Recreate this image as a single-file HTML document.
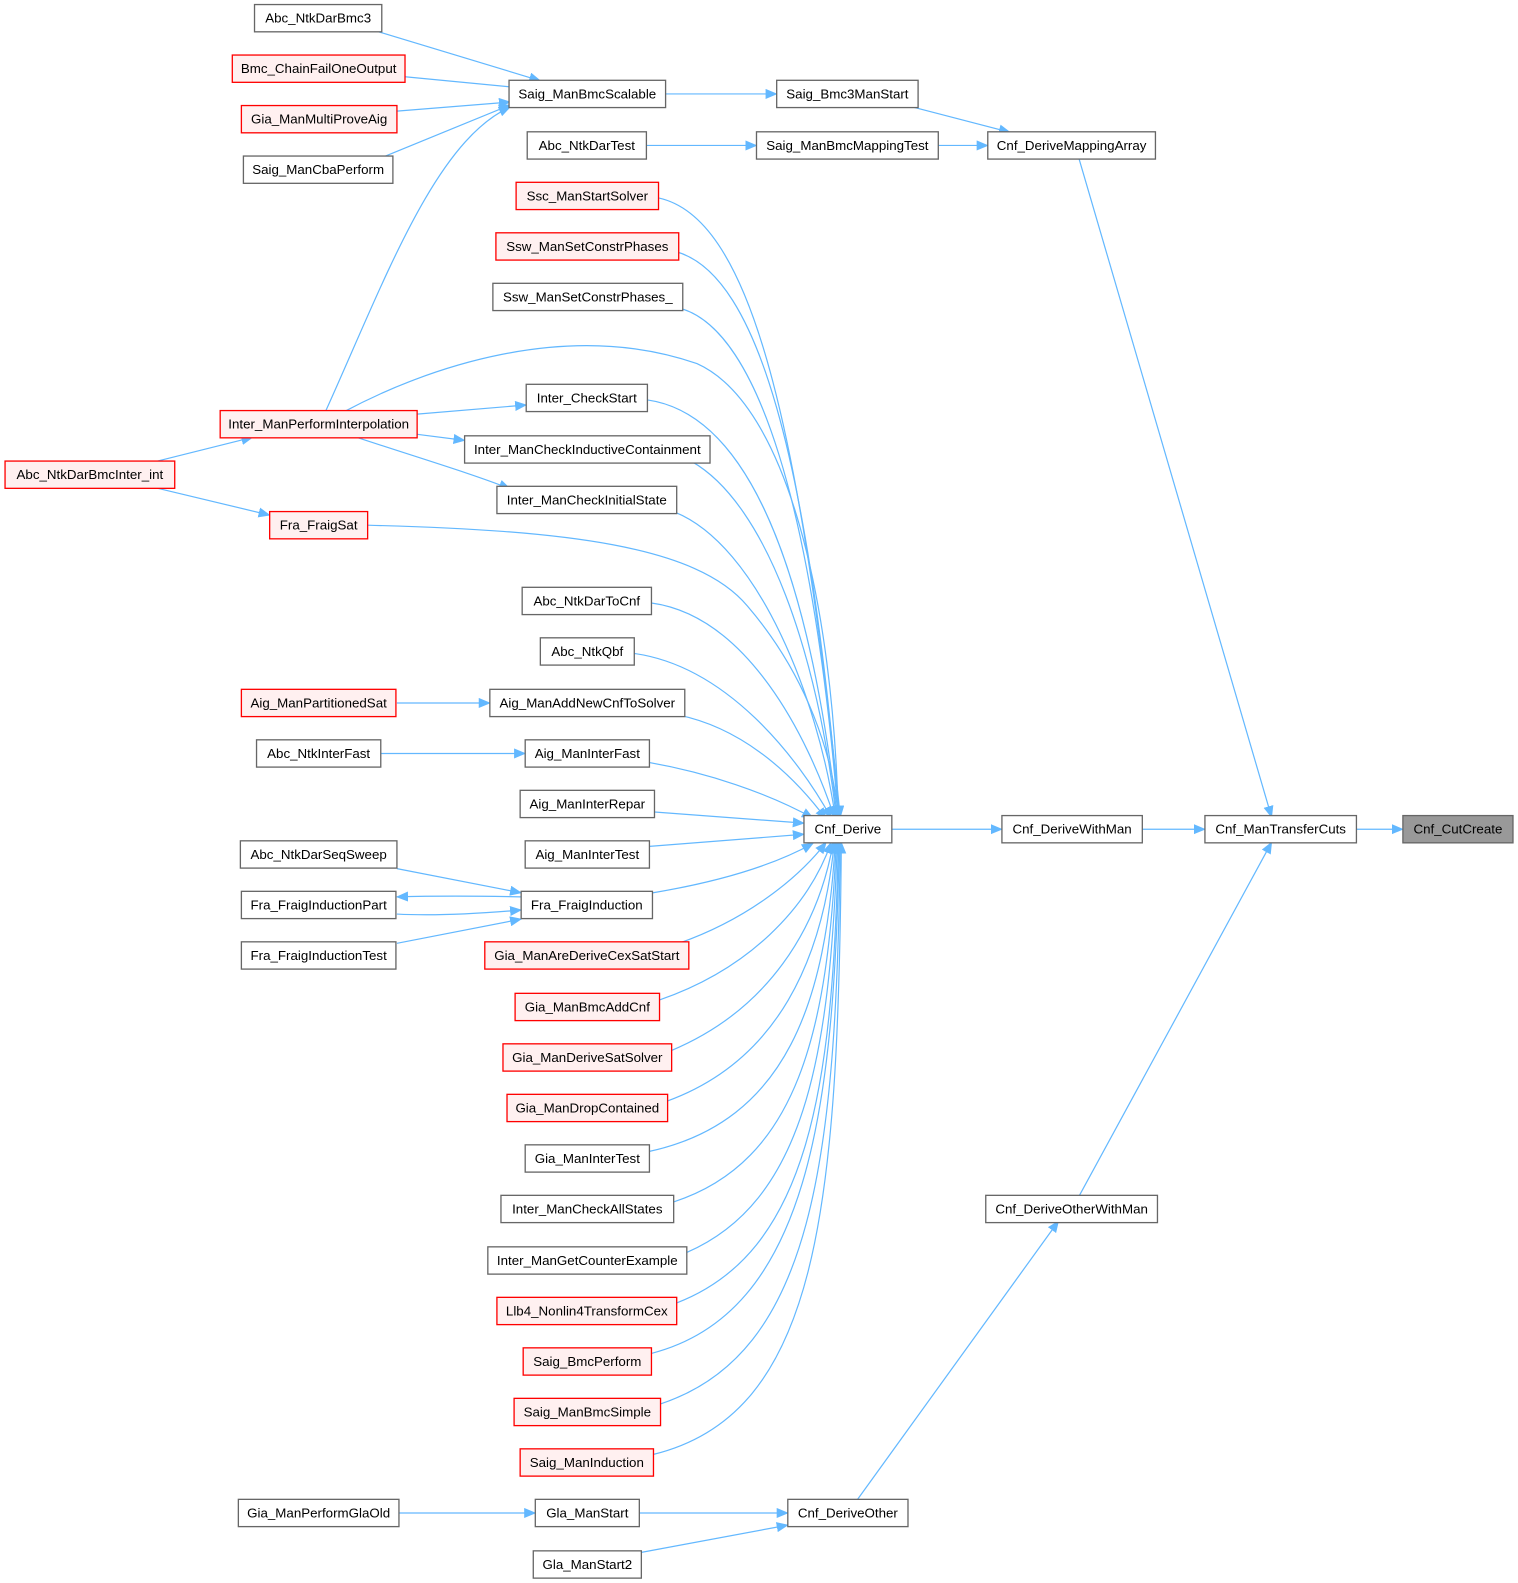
<!DOCTYPE html>
<html><head><meta charset="utf-8"><style>
html,body{margin:0;padding:0;background:#fff;}
svg{display:block;}
text{font-family:"Liberation Sans",Arial,sans-serif;font-size:13.2px;fill:#000;text-anchor:middle;dominant-baseline:central;}
.n{fill:#fff;stroke:#666;stroke-width:1.3;}
.r{fill:#fff0f0;stroke:#f00;stroke-width:1.3;}
.g{fill:#999;stroke:#666;stroke-width:1.3;}
.e{fill:none;stroke:#63b8ff;stroke-width:1.2;marker-end:url(#a);}
</style></head><body>
<svg width="1518" height="1583" viewBox="0 0 1518 1583" xmlns="http://www.w3.org/2000/svg">
<defs><marker id="a" markerUnits="userSpaceOnUse" markerWidth="12" markerHeight="10" refX="11" refY="5" orient="auto"><path d="M0,0 L12,5 L0,10 z" fill="#63b8ff"/></marker></defs>
<g transform="scale(1.01)">
<!-- edges -->
<path class="e" d="M370,30 L535,80"/>
<path class="e" d="M401,76 L515,87"/>
<path class="e" d="M393,110 L505,101"/>
<path class="e" d="M378,156 L505,104"/>
<path class="e" d="M322,408 C380,280 430,140 505,106"/>
<path class="e" d="M659,93 L769,93"/>
<path class="e" d="M900,105 L1000,131"/>
<path class="e" d="M640,144 L749,144"/>
<path class="e" d="M929,144 L978,144"/>
<path class="e" d="M1068,156 L1259,809"/>
<path class="e" d="M150,458 L250,433"/>
<path class="e" d="M150,482 L267,510"/>
<path class="e" d="M413,410 L521,401"/>
<path class="e" d="M413,430 L460,436"/>
<path class="e" d="M350,432 C420,455 470,470 505,484"/>
<path class="e" d="M340,408 C420,365 560,315 690,360 C780,400 825,600 830,809"/>
<path class="e" d="M364,520 C560,525 690,540 740,600 C800,670 825,750 830,809"/>
<path class="e" d="M393,696 L485,696"/>
<path class="e" d="M377,746 L520,746"/>
<path class="e" d="M393,860 L516,884"/>
<path class="e" d="M516,888 C470,887 430,887 393,888"/>
<path class="e" d="M393,905 C430,907 470,905 516,901"/>
<path class="e" d="M393,934 L516,910"/>
<path class="e" d="M395,1498 L530,1498"/>
<path class="e" d="M633,1498 L780,1498"/>
<path class="e" d="M635,1537 L780,1510"/>
<path class="e" d="M848,1486 L1048,1209"/>
<path class="e" d="M1068,1185 L1259,834"/>
<path class="e" d="M883,821 L992,821"/>
<path class="e" d="M1131,821 L1193,821"/>
<path class="e" d="M1343,821 L1389,821"/>
<!-- to Cnf_Derive from above -->
<path class="e" d="M652,196 C740,215 790,400 832,809"/>
<path class="e" d="M672,250 C750,275 800,450 831,809"/>
<path class="e" d="M676,306 C750,330 805,500 830,809"/>
<path class="e" d="M641,396 C740,410 800,560 829,809"/>
<path class="e" d="M685,457 C760,500 810,650 828,809"/>
<path class="e" d="M668,507 C750,540 810,690 827,809"/>
<path class="e" d="M645,597 C740,610 800,730 826,809"/>
<path class="e" d="M628,647 C720,660 790,750 823,810"/>
<path class="e" d="M672,708 C730,720 780,760 818,811"/>
<path class="e" d="M643,755 C700,765 760,785 805,810"/>
<path class="e" d="M648,804 L796,815"/>
<path class="e" d="M643,838 L796,826"/>
<path class="e" d="M646,884 C700,875 760,860 805,835"/>
<!-- from below -->
<path class="e" d="M672,934 C740,910 790,870 818,834"/>
<path class="e" d="M653,990 C740,960 800,900 823,834"/>
<path class="e" d="M665,1040 C760,1000 810,920 825,834"/>
<path class="e" d="M661,1090 C770,1050 815,950 826,834"/>
<path class="e" d="M643,1140 C780,1110 818,990 827,834"/>
<path class="e" d="M667,1190 C790,1150 820,1020 828,834"/>
<path class="e" d="M680,1240 C795,1190 822,1050 829,834"/>
<path class="e" d="M670,1290 C800,1240 825,1080 830,834"/>
<path class="e" d="M645,1340 C800,1300 826,1100 831,834"/>
<path class="e" d="M654,1390 C805,1340 828,1150 832,834"/>
<path class="e" d="M647,1440 C810,1400 830,1200 833,834"/>
<!-- nodes -->
<g>
<rect class="n" x="252" y="4.5" width="126" height="27"/><text x="315" y="18">Abc_NtkDarBmc3</text>
<rect class="r" x="230" y="54.5" width="171" height="27"/><text x="315.5" y="68">Bmc_ChainFailOneOutput</text>
<rect class="r" x="239" y="104.5" width="154" height="27"/><text x="316" y="118">Gia_ManMultiProveAig</text>
<rect class="n" x="241" y="154.5" width="148" height="27"/><text x="315" y="168">Saig_ManCbaPerform</text>
<rect class="r" x="218" y="406.5" width="195" height="27"/><text x="315.5" y="420">Inter_ManPerformInterpolation</text>
<rect class="r" x="5" y="456.5" width="168" height="27"/><text x="89" y="470">Abc_NtkDarBmcInter_int</text>
<rect class="r" x="267" y="506.5" width="97" height="27"/><text x="315.5" y="520">Fra_FraigSat</text>
<rect class="r" x="239" y="682.5" width="153" height="27"/><text x="315.5" y="696">Aig_ManPartitionedSat</text>
<rect class="n" x="254" y="732.5" width="123" height="27"/><text x="315.5" y="746">Abc_NtkInterFast</text>
<rect class="n" x="238" y="832.5" width="155" height="27"/><text x="315.5" y="846">Abc_NtkDarSeqSweep</text>
<rect class="n" x="239" y="882.5" width="153" height="27"/><text x="315.5" y="896">Fra_FraigInductionPart</text>
<rect class="n" x="239" y="932.5" width="153" height="27"/><text x="315.5" y="946">Fra_FraigInductionTest</text>
<rect class="n" x="236" y="1484.5" width="159" height="27"/><text x="315.5" y="1498">Gia_ManPerformGlaOld</text>

<rect class="n" x="504" y="79.5" width="155" height="27"/><text x="581.5" y="93">Saig_ManBmcScalable</text>
<rect class="n" x="522" y="130.5" width="118" height="27"/><text x="581" y="144">Abc_NtkDarTest</text>
<rect class="r" x="511" y="180.5" width="141" height="27"/><text x="581.5" y="194">Ssc_ManStartSolver</text>
<rect class="r" x="491" y="230.5" width="181" height="27"/><text x="581.5" y="244">Ssw_ManSetConstrPhases</text>
<rect class="n" x="488" y="280.5" width="188" height="27"/><text x="582" y="294">Ssw_ManSetConstrPhases_</text>
<rect class="n" x="521" y="380.5" width="120" height="27"/><text x="581" y="394">Inter_CheckStart</text>
<rect class="n" x="460" y="431.5" width="243" height="27"/><text x="581.5" y="445">Inter_ManCheckInductiveContainment</text>
<rect class="n" x="492" y="481.5" width="178" height="27"/><text x="581" y="495">Inter_ManCheckInitialState</text>
<rect class="n" x="517" y="581.5" width="128" height="27"/><text x="581" y="595">Abc_NtkDarToCnf</text>
<rect class="n" x="535" y="631.5" width="93" height="27"/><text x="581.5" y="645">Abc_NtkQbf</text>
<rect class="n" x="485" y="682.5" width="193" height="27"/><text x="581.5" y="696">Aig_ManAddNewCnfToSolver</text>
<rect class="n" x="520" y="732.5" width="123" height="27"/><text x="581.5" y="746">Aig_ManInterFast</text>
<rect class="n" x="515" y="782.5" width="133" height="27"/><text x="581.5" y="796">Aig_ManInterRepar</text>
<rect class="n" x="520" y="832.5" width="123" height="27"/><text x="581.5" y="846">Aig_ManInterTest</text>
<rect class="n" x="516" y="882.5" width="130" height="27"/><text x="581" y="896">Fra_FraigInduction</text>
<rect class="r" x="480" y="932.5" width="202" height="27"/><text x="581" y="946">Gia_ManAreDeriveCexSatStart</text>
<rect class="r" x="510" y="983.5" width="143" height="27"/><text x="581.5" y="997">Gia_ManBmcAddCnf</text>
<rect class="r" x="498" y="1033.5" width="167" height="27"/><text x="581.5" y="1047">Gia_ManDeriveSatSolver</text>
<rect class="r" x="502" y="1083.5" width="159" height="27"/><text x="581.5" y="1097">Gia_ManDropContained</text>
<rect class="n" x="520" y="1133.5" width="123" height="27"/><text x="581.5" y="1147">Gia_ManInterTest</text>
<rect class="n" x="496" y="1183.5" width="171" height="27"/><text x="581.5" y="1197">Inter_ManCheckAllStates</text>
<rect class="n" x="483" y="1234.5" width="197" height="27"/><text x="581.5" y="1248">Inter_ManGetCounterExample</text>
<rect class="r" x="492" y="1284.5" width="178" height="27"/><text x="581" y="1298">Llb4_Nonlin4TransformCex</text>
<rect class="r" x="518" y="1334.5" width="127" height="27"/><text x="581.5" y="1348">Saig_BmcPerform</text>
<rect class="r" x="509" y="1384.5" width="145" height="27"/><text x="581.5" y="1398">Saig_ManBmcSimple</text>
<rect class="r" x="515" y="1434.5" width="132" height="27"/><text x="581" y="1448">Saig_ManInduction</text>
<rect class="n" x="530" y="1484.5" width="103" height="27"/><text x="581.5" y="1498">Gla_ManStart</text>
<rect class="n" x="528" y="1535.5" width="107" height="27"/><text x="581.5" y="1549">Gla_ManStart2</text>

<rect class="n" x="769" y="79.5" width="140" height="27"/><text x="839" y="93">Saig_Bmc3ManStart</text>
<rect class="n" x="749" y="130.5" width="180" height="27"/><text x="839" y="144">Saig_ManBmcMappingTest</text>
<rect class="n" x="796" y="807.5" width="87" height="27"/><text x="839.5" y="821">Cnf_Derive</text>
<rect class="n" x="780" y="1484.5" width="119" height="27"/><text x="839.5" y="1498">Cnf_DeriveOther</text>

<rect class="n" x="978" y="130.5" width="166" height="27"/><text x="1061" y="144">Cnf_DeriveMappingArray</text>
<rect class="n" x="992" y="807.5" width="139" height="27"/><text x="1061.5" y="821">Cnf_DeriveWithMan</text>
<rect class="n" x="976" y="1183.5" width="170" height="27"/><text x="1061" y="1197">Cnf_DeriveOtherWithMan</text>
<rect class="n" x="1193" y="807.5" width="150" height="27"/><text x="1268" y="821">Cnf_ManTransferCuts</text>
<rect class="g" x="1389" y="807.5" width="109" height="27"/><text x="1443.5" y="821">Cnf_CutCreate</text>
</g>
</g>
</svg>
</body></html>
